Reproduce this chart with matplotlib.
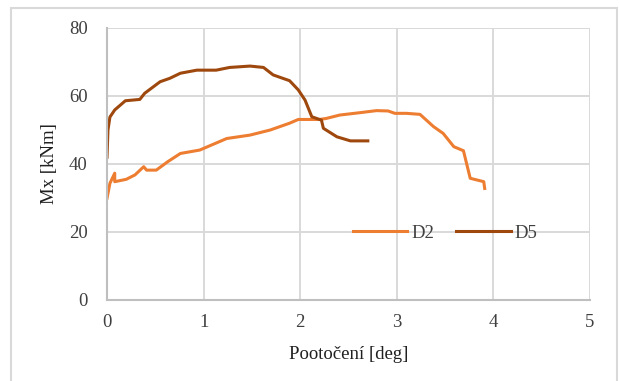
import matplotlib.pyplot as plt
from matplotlib.patches import Rectangle

# D2 series: rotation [deg] vs Mx [kNm]
d2_x = [0.0, 0.03, 0.08, 0.08, 0.2, 0.29, 0.38, 0.41, 0.51, 0.63, 0.76, 0.96,
        1.24, 1.48, 1.69, 1.89, 1.98, 2.2, 2.27, 2.41, 2.62, 2.79, 2.91, 2.98,
        3.1, 3.24, 3.38, 3.48, 3.59, 3.69, 3.76, 3.9, 3.91]
d2_y = [29.9, 34.3, 37.3, 34.8, 35.5, 36.8, 39.2, 38.2, 38.2, 40.7, 43.1, 44.1,
        47.5, 48.5, 50.0, 52.0, 53.1, 53.1, 53.4, 54.4, 55.1, 55.7, 55.6, 54.9,
        54.9, 54.6, 51.0, 49.0, 45.1, 43.9, 35.8, 34.8, 32.8]

# D5 series
d5_x = [0.0, 0.01, 0.03, 0.08, 0.19, 0.34, 0.39, 0.55, 0.65, 0.76, 0.93, 1.13,
        1.27, 1.48, 1.62, 1.72, 1.89, 1.98, 2.05, 2.12, 2.22, 2.24, 2.38, 2.52,
        2.7]
d5_y = [42.0, 50.0, 53.8, 55.9, 58.6, 59.0, 60.8, 64.2, 65.2, 66.7, 67.6, 67.6,
        68.4, 68.8, 68.4, 66.2, 64.5, 61.8, 58.8, 53.9, 52.9, 50.5, 48.0, 46.8,
        46.8]

x_ticks = [0, 1, 2, 3, 4, 5]
y_ticks = [0, 20, 40, 60, 80]

plt.rcParams['font.family'] = ['Liberation Serif', 'DejaVu Serif']

fig = plt.figure(figsize=(6.19, 3.81), dpi=100)
# outer chart border
fig.patches.append(Rectangle((11 / 619, -0.01), (617 - 11) / 619, 1 - 8 / 381 + 0.01,
                             transform=fig.transFigure, fill=False,
                             edgecolor='#d9d9d9', linewidth=1.5))

ax = fig.add_axes([107 / 619, 1 - 300 / 381, 483 / 619, 272 / 381])

ax.plot(d2_x, d2_y, color='#ED7D31', linewidth=2.2, label='D2', solid_joinstyle='round')
ax.plot(d5_x, d5_y, color='#9E480E', linewidth=2.2, label='D5', solid_joinstyle='round')

ax.set_xlim(0, 5)
ax.set_ylim(0, 80)
ax.set_xticks(x_ticks)
ax.set_yticks(y_ticks)
ax.grid(True, color='#d9d9d9', linewidth=1.4)
ax.set_axisbelow(True)
ax.tick_params(length=0, labelsize=13.5, colors='#404040', pad=14)
ax.tick_params(axis='x', pad=10)

for side in ['top', 'right']:
    ax.spines[side].set_visible(False)
for side in ['left', 'bottom']:
    ax.spines[side].set_color('#bfbfbf')
    ax.spines[side].set_linewidth(1.5)

ax.set_xlabel('Pootočení [deg]', fontsize=13.5, color='#202020', labelpad=11)
ax.set_ylabel('Mx [kNm]', fontsize=13.5, color='#202020', labelpad=8)

ax.legend(loc='center', bbox_to_anchor=(0.70, 0.246), ncol=2, frameon=False,
          fontsize=13.5, handlelength=2.9, handletextpad=0.2, columnspacing=1.2,
          labelcolor='#404040')

fig.savefig('out.png', dpi=100)
